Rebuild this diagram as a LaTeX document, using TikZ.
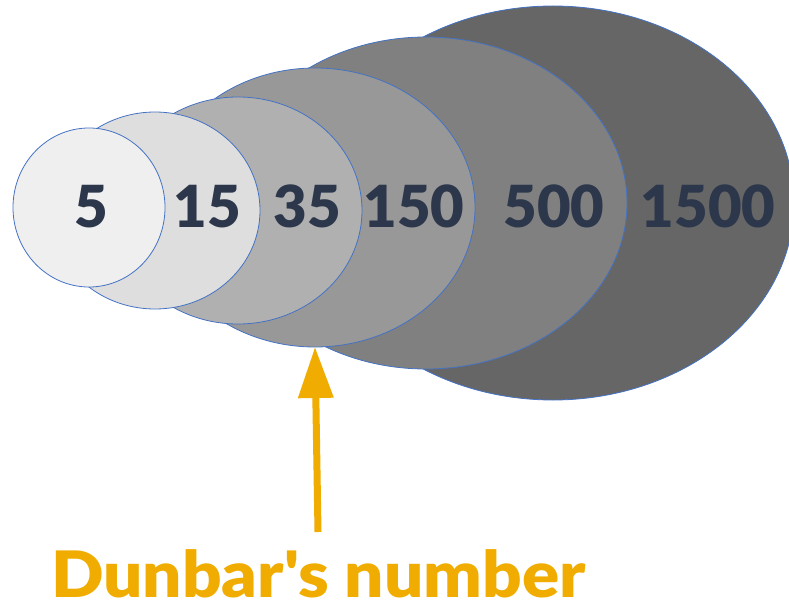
\documentclass[tikz,border=0pt]{standalone}
\usepackage{fontspec}
\newfontfamily\latofont{Lato}[BoldFont={Lato Black}]
\newfontfamily\latowide{Lato Black}[FakeStretch=1.08]
\usetikzlibrary{shapes.geometric,arrows.meta}
\definecolor{navy}{HTML}{2C374B}
\definecolor{ringline}{HTML}{4472C4}
\definecolor{gold}{HTML}{F0AC00}
\definecolor{g1}{HTML}{EFEFEF}
\definecolor{g2}{HTML}{DEDEDE}
\definecolor{g3}{HTML}{B0B0B0}
\definecolor{g4}{HTML}{989898}
\definecolor{g5}{HTML}{808080}
\definecolor{g6}{HTML}{666666}
\tikzset{
  ring/.style={ellipse, draw=ringline, line width=0.8pt, inner sep=0pt, outer sep=0pt},
  num/.style={text=navy, font=\latofont\fontsize{58}{58}\selectfont\bfseries, inner sep=0pt, anchor=base},
  dlabel/.style={text=gold, font=\latowide\fontsize{64}{64}\selectfont, inner sep=0pt, text depth=0pt, anchor=base west},
  pointer/.style={draw=gold, line width=7pt, -{Triangle[width=34pt,length=51pt]}, fill=gold}
}
\begin{document}
\begin{tikzpicture}[x=1pt,y=-1pt]
\useasboundingbox (0,0) rectangle (789,604);
\clip (0,0) rectangle (789,604);
\node[ring, fill=g6, minimum width=482pt, minimum height=394pt] (e1500) at (553,203) {};
\node[ring, fill=g5, minimum width=402pt, minimum height=332pt] (e500) at (426,203) {};
\node[ring, fill=g4, minimum width=320pt, minimum height=279pt] (e150) at (315,207.5) {};
\node[ring, fill=g3, minimum width=248pt, minimum height=227pt] (e35) at (238,210.5) {};
\node[ring, fill=g2, minimum width=210pt, minimum height=197pt] (e15) at (155,210.5) {};
\node[ring, fill=g1, minimum width=152pt, minimum height=159pt] (e5) at (89,207.5) {};
\node[num] (t5) at (91,227) {5};
\node[num] (t15) at (207,227) {15};
\node[num] (t35) at (307,227) {35};
\node[num] (t150) at (414,227) {150};
\node[num] (t500) at (554,227) {500};
\node[num] (t1500) at (708,227) {1500};
\node[dlabel] (dn) at (51,597) {Dunbar's number};
\coordinate (tail) at (318,532);
\draw[pointer] (tail) -- (e150.south);
\end{tikzpicture}
\end{document}
